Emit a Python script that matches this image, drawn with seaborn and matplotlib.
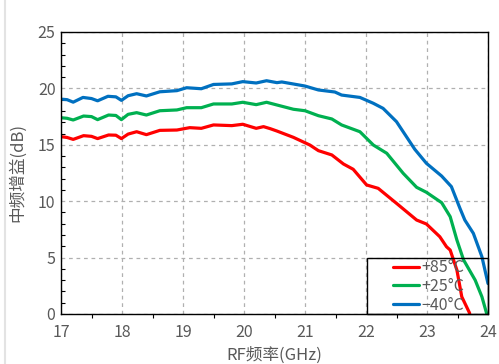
import numpy as np
import pandas as pd
import matplotlib
matplotlib.use("Agg")
import matplotlib.pyplot as plt
from matplotlib.ticker import MultipleLocator
from matplotlib.lines import Line2D
from matplotlib.patches import Rectangle
import seaborn as sns

# ---- data ----
freq_m40 = [17.0, 17.1, 17.2, 17.36, 17.5, 17.6, 17.77, 17.9, 17.99, 18.1, 18.24, 18.4,
            18.62, 18.9, 19.06, 19.3, 19.5, 19.8, 19.98, 20.2, 20.37, 20.54, 20.62, 20.8,
            21.0, 21.22, 21.49, 21.6, 21.9, 22.12, 22.28, 22.5, 22.8, 22.99, 23.24, 23.4,
            23.54, 23.62, 23.76, 23.9, 24.0]
gain_m40 = [19.05, 19.0, 18.78, 19.2, 19.1, 18.9, 19.3, 19.25, 18.94, 19.35, 19.53, 19.33,
            19.7, 19.8, 20.06, 19.97, 20.35, 20.4, 20.6, 20.48, 20.68, 20.51, 20.57, 20.4,
            20.21, 19.86, 19.68, 19.41, 19.2, 18.68, 18.23, 17.05, 14.6, 13.36, 12.23, 11.29,
            9.37, 8.33, 7.15, 5.08, 2.7]

freq_p25 = [17.0, 17.1, 17.2, 17.37, 17.5, 17.6, 17.78, 17.9, 17.99, 18.1, 18.24, 18.4,
            18.62, 18.9, 19.06, 19.3, 19.5, 19.8, 19.98, 20.2, 20.37, 20.54, 20.81, 21.0,
            21.22, 21.44, 21.6, 21.9, 22.12, 22.34, 22.61, 22.83, 22.99, 23.24, 23.38, 23.49,
            23.6, 23.79, 23.9, 23.98]
gain_p25 = [17.4, 17.35, 17.2, 17.55, 17.5, 17.23, 17.64, 17.6, 17.23, 17.7, 17.85, 17.64,
            18.02, 18.09, 18.29, 18.29, 18.62, 18.62, 18.77, 18.56, 18.77, 18.53, 18.15, 18.02,
            17.58, 17.29, 16.76, 16.16, 14.98, 14.25, 12.47, 11.23, 10.79, 9.87, 8.63, 6.56,
            4.79, 3.0, 1.53, 0.0]

freq_p85 = [17.0, 17.1, 17.2, 17.37, 17.5, 17.6, 17.78, 17.9, 17.99, 18.1, 18.24, 18.4,
            18.62, 18.9, 19.11, 19.3, 19.5, 19.8, 19.98, 20.2, 20.32, 20.43, 20.54, 20.81,
            21.08, 21.22, 21.44, 21.63, 21.79, 22.01, 22.2, 22.5, 22.83, 22.99, 23.21, 23.32,
            23.38, 23.49, 23.57, 23.7]
gain_p85 = [15.72, 15.65, 15.48, 15.81, 15.75, 15.55, 15.87, 15.85, 15.55, 15.95, 16.16, 15.9,
            16.28, 16.31, 16.52, 16.46, 16.76, 16.7, 16.82, 16.46, 16.61, 16.43, 16.22, 15.66,
            14.98, 14.48, 14.1, 13.3, 12.83, 11.44, 11.14, 9.81, 8.33, 7.98, 6.85, 5.96,
            5.67, 3.9, 1.53, 0.06]

labels = ["+85°C", "+25°C", "\u221240°C"]
colors = ["#FF0000", "#00B050", "#0070C0"]
x_ticks = [17, 18, 19, 20, 21, 22, 23, 24]
y_ticks = [0, 5, 10, 15, 20, 25]
x_label = "RF频率(GHz)"
y_label = "中频增益(dB)"

# ---- style ----
sns.set_theme(style="white")
plt.rcParams['font.family'] = ['Noto Sans CJK SC', 'DejaVu Sans']
plt.rcParams['axes.unicode_minus'] = False

df = pd.concat([
    pd.DataFrame({"freq": freq_p85, "gain": gain_p85, "temp": labels[0]}),
    pd.DataFrame({"freq": freq_p25, "gain": gain_p25, "temp": labels[1]}),
    pd.DataFrame({"freq": freq_m40, "gain": gain_m40, "temp": labels[2]}),
], ignore_index=True)

W, H = 499, 364
fig = plt.figure(figsize=(W/100, H/100), dpi=100)
ax_l, ax_r, ax_t, ax_b = 61, 488, 32, 314
ax = fig.add_axes([ax_l/W, 1-ax_b/H, (ax_r-ax_l)/W, (ax_b-ax_t)/H])

sns.lineplot(data=df, x="freq", y="gain", hue="temp", hue_order=labels,
             palette=colors, sort=False, estimator=None, linewidth=2.3, ax=ax)

ax.set_xlim(17, 24)
ax.set_ylim(0, 25)
ax.set_xticks(x_ticks)
ax.set_yticks(y_ticks)
ax.xaxis.set_minor_locator(MultipleLocator(0.5))
ax.yaxis.set_minor_locator(MultipleLocator(1))
grey = "#595959"
ax.tick_params(axis="both", which="major", labelsize=11.5, labelcolor=grey, color="black",
               length=4, width=0.9)
ax.tick_params(axis="x", which="major", direction="out", pad=3)
ax.tick_params(axis="y", which="major", direction="inout", pad=2)
ax.tick_params(axis="x", which="minor", direction="out", length=3, width=0.8, color="black", bottom=True)
ax.tick_params(axis="y", which="minor", direction="in", length=3, width=0.8, color="black", left=True)

ax.grid(True, which="major", linestyle=(0, (3, 3)), color="#b0b0b0", linewidth=0.9)
for s in ax.spines.values():
    s.set_visible(True)
    s.set_color("black")
    s.set_linewidth(1.0)

ax.set_xlabel(x_label, fontsize=12, color=grey, labelpad=4)
ax.set_ylabel(y_label, fontsize=12, color=grey, labelpad=8)

# legend (entries) + separate square frame
leg = ax.legend(loc="center left",
                bbox_to_anchor=((393-ax_l)/(ax_r-ax_l), (ax_b-286.5)/(ax_b-ax_t)),
                borderaxespad=0, borderpad=0, frameon=False,
                fontsize=11.5, handlelength=1.6, handletextpad=0.15,
                labelspacing=0.1)
for t in leg.get_texts():
    t.set_color(grey)
for h in leg.get_lines():
    h.set_linewidth(2.3)
ax.add_patch(Rectangle(((367-ax_l)/(ax_r-ax_l), 0), (ax_r-367)/(ax_r-ax_l),
                       (ax_b-258)/(ax_b-ax_t), transform=ax.transAxes,
                       fill=False, edgecolor="black", linewidth=1.0, zorder=5,
                       clip_on=False))

fig.add_artist(Line2D([4.5/W, 4.5/W], [0, 1], color="#e3e3e3", linewidth=1.5,
                      transform=fig.transFigure))

fig.savefig("out.png", dpi=100)
